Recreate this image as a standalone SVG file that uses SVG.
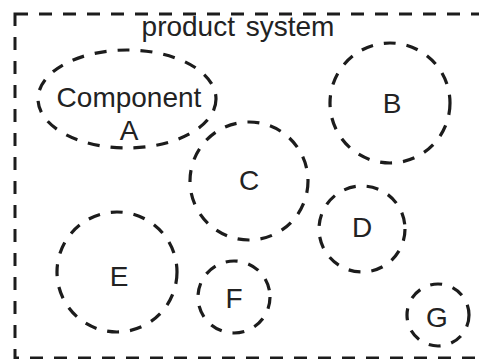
<svg xmlns="http://www.w3.org/2000/svg" width="479" height="359" viewBox="0 0 479 359">
  <style>
    .frame { fill: none; stroke: #1c1c1c; stroke-width: 3; stroke-dasharray: 13 11; }
    .comp { fill: none; stroke: #1c1c1c; stroke-width: 3.2; stroke-dasharray: 12 11; }
    .lbl { font-family: "Liberation Sans", Arial, sans-serif; font-size: 28px; fill: #222; text-anchor: middle; }
  </style>
  <rect width="479" height="359" fill="#ffffff"/>

  <!-- system boundary (open to the right) -->
  <g id="product-system">
    <rect class="frame" x="15" y="14" width="490" height="344"/>
    <text class="lbl" x="238" y="36" word-spacing="3">product system</text>
  </g>

  <g id="component-a">
    <ellipse class="comp" cx="127" cy="99" rx="89" ry="49"/>
    <text class="lbl" x="129" y="107" font-size="29">Component</text>
    <text class="lbl" x="129" y="140" font-size="29">A</text>
  </g>

  <g id="component-b">
    <circle class="comp" cx="390" cy="103" r="60"/>
    <text class="lbl" x="392" y="113">B</text>
  </g>

  <g id="component-c">
    <circle class="comp" cx="249" cy="181" r="59"/>
    <text class="lbl" x="249" y="190">C</text>
  </g>

  <g id="component-d">
    <circle class="comp" cx="362" cy="229" r="43"/>
    <text class="lbl" x="362" y="237">D</text>
  </g>

  <g id="component-e">
    <circle class="comp" cx="117" cy="272" r="60"/>
    <text class="lbl" x="119" y="286">E</text>
  </g>

  <g id="component-f">
    <circle class="comp" cx="234" cy="297" r="36"/>
    <text class="lbl" x="234" y="308">F</text>
  </g>

  <g id="component-g">
    <circle class="comp" cx="438" cy="315" r="31"/>
    <text class="lbl" x="437" y="327">G</text>
  </g>

  <g id="connectors"/>
</svg>
